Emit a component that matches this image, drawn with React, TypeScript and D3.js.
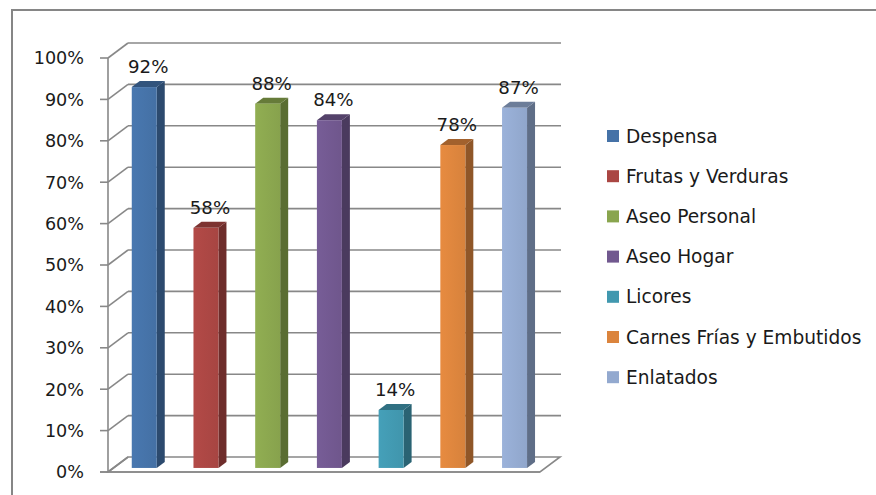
import React from "react";
import * as d3 from "d3";

const categories = [
  "Despensa",
  "Frutas y Verduras",
  "Aseo Personal",
  "Aseo Hogar",
  "Licores",
  "Carnes Frías y Embutidos",
  "Enlatados",
];
const values = [0.92, 0.58, 0.88, 0.84, 0.14, 0.78, 0.87];
const yTicks = [0, 0.1, 0.2, 0.3, 0.4, 0.5, 0.6, 0.7, 0.8, 0.9, 1.0];
const frontColors = ["#4572A7", "#AA4643", "#89A54E", "#71588F", "#4198AF", "#DB843D", "#93A9CF"];
const sideColors = ["#2C4A6E", "#6E2D2B", "#5A6D32", "#4A3A5E", "#2A6373", "#8F5628", "#5F6E87"];

const W = 876;
const H = 495;
const FONT = "DejaVu Sans, Verdana, sans-serif";

export default function App() {
  const x0 = 108;
  const x1 = 540;
  const yFront = d3.scaleLinear().domain([0, 1]).range([472, 58]);
  const DX = 20;
  const DY = -15;
  const x = d3.scaleBand().domain(categories).range([x0, x1]).paddingInner(0).paddingOuter(0);
  const barW = x.bandwidth() * 0.405;
  const barDepthStart = 0.27;
  const barDepth = 0.4;
  const fmt = d3.format(".0%");

  const bars = categories.map((c, i) => {
    const s = barDepthStart;
    const ox = DX * s;
    const oy = DY * s;
    const bx = (x(c) as number) + x.bandwidth() / 2 - barW / 2 + ox;
    const by0 = yFront(0) + oy;
    const byt = yFront(values[i]) + oy;
    const ddx = DX * barDepth;
    const ddy = DY * barDepth;
    return { c, i, bx, by0, byt, ddx, ddy };
  });

  return (
    <svg width={W} height={H} style={{ position: "absolute", left: 0, top: 0 }}>
      <defs>
        {frontColors.map((col, i) => (
          <linearGradient key={i} id={`g${i}`} x1="0" x2="1" y1="0" y2="0">
            <stop offset="0" stopColor={d3.color(col)!.brighter(0.15).formatHex()} />
            <stop offset="1" stopColor={d3.color(col)!.darker(0.05).formatHex()} />
          </linearGradient>
        ))}
      </defs>
      <rect x={0} y={0} width={W} height={H} fill="#ffffff" />
      <rect x={12} y={10} width={W + 20} height={H + 20} fill="none" stroke="#868686" strokeWidth={2} />

      {yTicks.map((t) => {
        const yf = yFront(t);
        return (
          <g key={t}>
            <line x1={x0} y1={yf} x2={x0 + DX} y2={yf + DY} stroke="#888888" strokeWidth={1.6} />
            {t > 0 && (
              <line x1={x0 + DX} y1={yf + DY} x2={x1 + DX + 1} y2={yf + DY} stroke="#888888" strokeWidth={1.6} />
            )}
            <line x1={x0 - 8} y1={yf} x2={x0} y2={yf} stroke="#888888" strokeWidth={1.6} />
            <text
              x={84}
              y={yf}
              dy="0.36em"
              textAnchor="end"
              fontFamily={FONT}
              fontSize={17.6}
              fill="#1a1a1a"
            >
              {fmt(t)}
            </text>
          </g>
        );
      })}
      <path
        d={`M${x0},${yFront(0)} L${x0 + DX},${yFront(0) + DY} L${x1 + DX},${yFront(0) + DY} L${x1},${yFront(0)} Z`}
        fill="none"
        stroke="#888888"
        strokeWidth={1.6}
      />
      <line x1={x0 - 8} y1={yFront(0)} x2={x1} y2={yFront(0)} stroke="#888888" strokeWidth={1.6} />
      <line x1={x0} y1={yFront(1)} x2={x0} y2={yFront(0)} stroke="#888888" strokeWidth={1.6} />

      {bars.map(({ c, i, bx, by0, byt, ddx, ddy }) => (
        <g key={c}>
          <polygon
            points={`${bx + barW},${by0} ${bx + barW},${byt} ${bx + barW + ddx},${byt + ddy} ${bx + barW + ddx},${by0 + ddy}`}
            fill={sideColors[i]}
          />
          <polygon
            points={`${bx},${byt} ${bx + ddx},${byt + ddy} ${bx + barW + ddx},${byt + ddy} ${bx + barW},${byt}`}
            fill={d3.color(sideColors[i])!.brighter(0.35).formatHex()}
          />
          <rect x={bx} y={byt} width={barW} height={by0 - byt} fill={`url(#g${i})`} />
          <text
            x={bx + (barW + ddx) / 2}
            y={byt - 14}
            textAnchor="middle"
            fontFamily={FONT}
            fontSize={18.2}
            fill="#1a1a1a"
          >
            {fmt(values[i])}
          </text>
        </g>
      ))}

      {categories.map((c, i) => {
        const ly = 136 + i * 40.2;
        return (
          <g key={c}>
            <rect x={607} y={ly - 6} width={12} height={12} fill={frontColors[i]} />
            <text x={626} y={ly} dy="0.36em" fontFamily={FONT} fontSize={18.6} fill="#1a1a1a">
              {c}
            </text>
          </g>
        );
      })}
    </svg>
  );
}
